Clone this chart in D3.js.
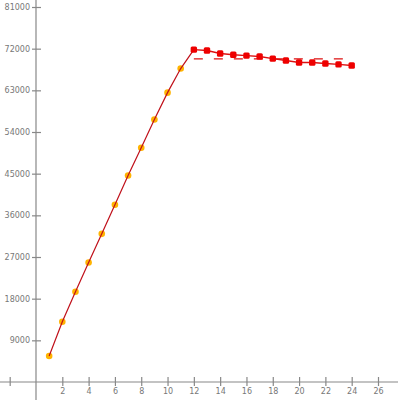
<!DOCTYPE html>
<html><head><meta charset="utf-8">
<script src="https://cdn.jsdelivr.net/npm/d3@7"></script>
<style>body{margin:0;background:#fff}svg{display:block}</style>
</head><body>
<script>
const riseX = [1,2,3,4,5,6,7,8,9,10,11,12];
const riseY = [5600,13000,19500,25800,32000,38300,44600,50600,56700,62500,67700,71800];
const plateauX = [12,13,14,15,16,17,18,19,20,21,22,23,24];
const plateauY = [71800,71600,70950,70700,70500,70300,69850,69450,69000,69000,68800,68600,68350];
const refX = [12,24];
const refY = [69800,69800];
const xTicks = [-2,2,4,6,8,10,12,14,16,18,20,22,24,26];
const xLabels = ["","2","4","6","8","10","12","14","16","18","20","22","24","26"];
const yTicks = [9000,18000,27000,36000,45000,54000,63000,72000,81000];

const W=400,H=400;
const svg=d3.select("body").append("svg").attr("width",W).attr("height",H);
const x=d3.scaleLinear().domain([0,26]).range([36,378]);
const y=d3.scaleLinear().domain([0,81000]).range([382,7]);
const axisCol="#888", textCol="#777";

svg.append("line").attr("x1",0).attr("x2",398).attr("y1",y(0)).attr("y2",y(0)).attr("stroke",axisCol).attr("stroke-width",1.2);
svg.append("line").attr("x1",x(0)).attr("x2",x(0)).attr("y1",0).attr("y2",400).attr("stroke",axisCol).attr("stroke-width",1.2);

const xa=d3.axisBottom(x).tickValues(xTicks).tickSize(0).tickFormat((d,i)=>xLabels[i]);
const gx=svg.append("g").attr("transform",`translate(0,${y(0)})`).call(xa);
gx.select(".domain").remove();
gx.selectAll(".tick line").remove();
gx.selectAll(".tick").append("line").attr("y1",-5).attr("y2",4).attr("stroke",axisCol).attr("stroke-width",1.2);
gx.selectAll(".tick text").attr("y",6).attr("dy","0.71em").attr("fill",textCol).style("font","8px 'DejaVu Sans'");

const ya=d3.axisLeft(y).tickValues(yTicks).tickSize(0).tickFormat(d3.format("d"));
const gy=svg.append("g").attr("transform",`translate(${x(0)},0)`).call(ya);
gy.select(".domain").remove();
gy.selectAll(".tick line").remove();
gy.selectAll(".tick").append("line").attr("x1",-4).attr("x2",5).attr("stroke",axisCol).attr("stroke-width",1.2);
gy.selectAll(".tick text").attr("x",-6).attr("fill",textCol).style("font","8px 'DejaVu Sans'");

const rise=riseX.map((d,i)=>[d,riseY[i]]);
const plat=plateauX.map((d,i)=>[d,plateauY[i]]);
const ref=refX.map((d,i)=>[d,refY[i]]);
const line=d3.line().x(d=>x(d[0])).y(d=>y(d[1]));

svg.append("path").attr("d",line(ref)).attr("fill","none").attr("stroke","#dd1111").attr("stroke-width",1.3).attr("stroke-dasharray","9,11");

svg.selectAll(".om").data(rise.slice(0,11)).enter().append("circle")
  .attr("cx",d=>x(d[0])).attr("cy",d=>y(d[1])).attr("r",3.3).attr("fill","#ffb400");
svg.append("path").attr("d",line(rise)).attr("fill","none").attr("stroke","#c0101a").attr("stroke-width",1.2);

svg.append("path").attr("d",line(plat)).attr("fill","none").attr("stroke","#dd1111").attr("stroke-width",1.4);
svg.selectAll(".rm").data(plat).enter().append("rect")
  .attr("x",d=>x(d[0])-3.2).attr("y",d=>y(d[1])-3.2).attr("width",6.4).attr("height",6.4).attr("rx",1.5)
  .attr("fill","#ee0000");
</script>
</body></html>
